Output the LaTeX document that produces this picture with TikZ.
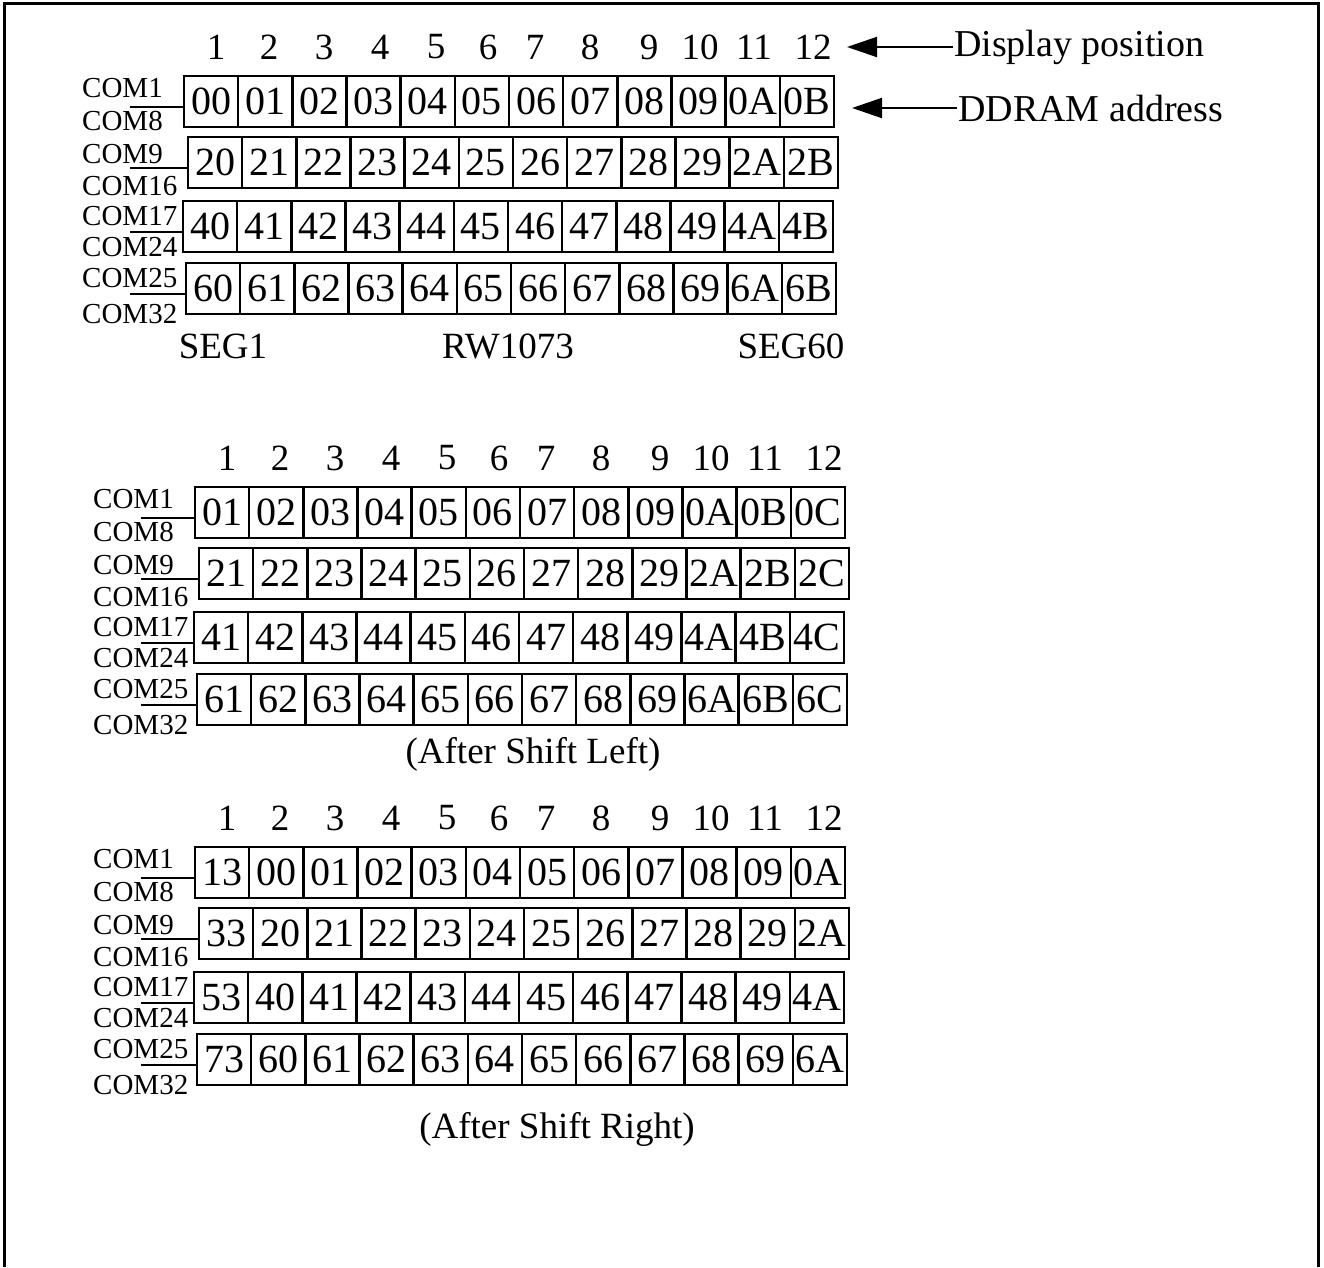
\documentclass[tikz,border=0pt]{standalone}
\usepackage{fontspec}
\setmainfont{Liberation Serif}
\usetikzlibrary{arrows.meta,positioning,calc}
\tikzset{>={Triangle[length=30pt,width=20pt]},
 cell/.style={draw,line width=2.6pt,minimum width=54.17pt,minimum height=51pt,inner sep=0pt,font=\fontsize{40}{40}\selectfont},
 colnum/.style={inner sep=0pt,font=\fontsize{37}{37}\selectfont},
 comlbl/.style={inner sep=0pt,anchor=base west,font=\fontsize{29}{29}\selectfont},
 caption/.style={inner sep=0pt,anchor=base,font=\fontsize{37}{37}\selectfont},
 pointlbl/.style={inner sep=1pt,anchor=west,font=\fontsize{38}{38}\selectfont},
 lead/.style={line width=2.6pt},
 pointer/.style={line width=2pt,->}}
% DDRAM contents of each block, row by row
\def\rowsi{{00,01,02,03,04,05,06,07,08,09,0A,0B},{20,21,22,23,24,25,26,27,28,29,2A,2B},{40,41,42,43,44,45,46,47,48,49,4A,4B},{60,61,62,63,64,65,66,67,68,69,6A,6B}}
\def\rowsii{{01,02,03,04,05,06,07,08,09,0A,0B,0C},{21,22,23,24,25,26,27,28,29,2A,2B,2C},{41,42,43,44,45,46,47,48,49,4A,4B,4C},{61,62,63,64,65,66,67,68,69,6A,6B,6C}}
\def\rowsiii{{13,00,01,02,03,04,05,06,07,08,09,0A},{33,20,21,22,23,24,25,26,27,28,29,2A},{53,40,41,42,43,44,45,46,47,48,49,4A},{73,60,61,62,63,64,65,66,67,68,69,6A}}
\begin{document}
\begin{tikzpicture}[x=1pt,y=-1pt]
\useasboundingbox (0,0) rectangle (1324,1267);
\draw[line width=3pt] (4,1267) -- (4,3) -- (1318,3) -- (1318,1267);
\foreach \b/\dx/\dy/\rl in {1/0/0/i,2/11/411/ii,3/11/771/iii}{
\begin{scope}[shift={(\dx,\dy)}]
\expandafter\let\expandafter\rowlist\csname rows\rl\endcsname
\foreach \hx [count=\c] in {216,269,324,380,436,488,535,590,649,700,754,813}{\node[colnum] (hd\b-\c) at (\hx,47) {\c};}
\foreach \vals [count=\r] in \rowlist {
 \pgfmathsetmacro\xo{{184,188,183,186}[\r-1]}
 \pgfmathsetmacro\yo{{76,137,201,263}[\r-1]}
 \pgfmathsetmacro\ua{{21,26,24,24}[\r-1]}
 \pgfmathsetmacro\lb{{54,58,55,60}[\r-1]}
 \pgfmathtruncatemacro\cu{8*(\r-1)+1}\pgfmathtruncatemacro\cd{8*\r}
 \foreach \v [count=\c] in \vals {\node[cell] (cell\b-\r-\c) at ({\xo+54.17*(\c-0.5)},{\yo+25.5}) {\v};}
 \node[comlbl] (comup\b-\r) at (82,\yo+\ua) {COM\cu};
 \node[comlbl] (comdn\b-\r) at (82,\yo+\lb) {COM\cd};
 \coordinate (lead\b-\r) at (130,\yo+31);
 \draw[lead] (lead\b-\r) -- (lead\b-\r -| cell\b-\r-1.west);
}
\end{scope}}
% labels under the first block
\node[caption] (seg1) at (223,358) {SEG1};
\node[caption] (chip) at (508,358) {RW1073};
\node[caption] (seg60) at (791,358) {SEG60};
\node[caption] (shl) at (533,763) {(After Shift Left)};
\node[caption] (shr) at (557,1138) {(After Shift Right)};
% pointers
\node[pointlbl] (dispos) at (953,47) {Display position};
\node[pointlbl] (ddram) at (957,108) {DDRAM address};
\coordinate (tipdisp) at (847,47);
\coordinate (tipddram) at (852,108);
\draw[pointer] (dispos.west) -- (tipdisp);
\draw[pointer] (ddram.west) -- (tipddram);
\end{tikzpicture}
\end{document}
